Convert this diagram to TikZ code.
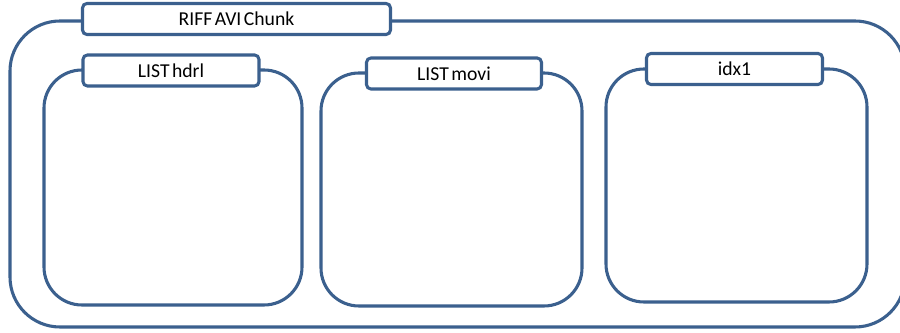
\documentclass[tikz,border=0pt]{standalone}
\usepackage{fontspec}
\setmainfont{Carlito}[WordSpace=0.55]
\usepackage{xcolor}
\usetikzlibrary{calc,positioning}
\definecolor{chunkBlue}{RGB}{59,96,142}

\begin{document}
\begin{tikzpicture}[x=0.02cm,y=-0.02cm,
    chunkline/.style={draw=chunkBlue, line width=1.75pt, rounded corners=#1},
    chunktag/.style={draw=chunkBlue, line width=1.75pt, fill=white, rounded corners=2.5pt,
        inner sep=0pt, minimum height=0.62cm, font=\fontsize{11.2}{13}\selectfont}]

    \useasboundingbox (0,0) rectangle (900,333);
    \clip (0,0) rectangle (900,333);

    % outer chunk (runs off the right edge)
    \draw[chunkline=1cm] (10,21) rectangle (905,327);

    % three inner lists
    \draw[chunkline=0.76cm] (44,70) rectangle (302,305);
    \draw[chunkline=0.76cm] (321,73) rectangle (582,306);
    \draw[chunkline=0.76cm] (606,69) rectangle (867,302);

    % labels on top
    \node[chunktag, minimum width=6.16cm] (riff) at (236.5,19) {RIFF AVI Chunk};
    \node[chunktag, minimum width=3.52cm] (hdrl) at (171,70.5) {LIST hdrl};
    \node[chunktag, minimum width=3.50cm] (movi) at (454,73.5) {LIST movi};
    \node[chunktag, minimum width=3.52cm] (idx) at (734.5,69) {idx1};

\end{tikzpicture}
\end{document}
